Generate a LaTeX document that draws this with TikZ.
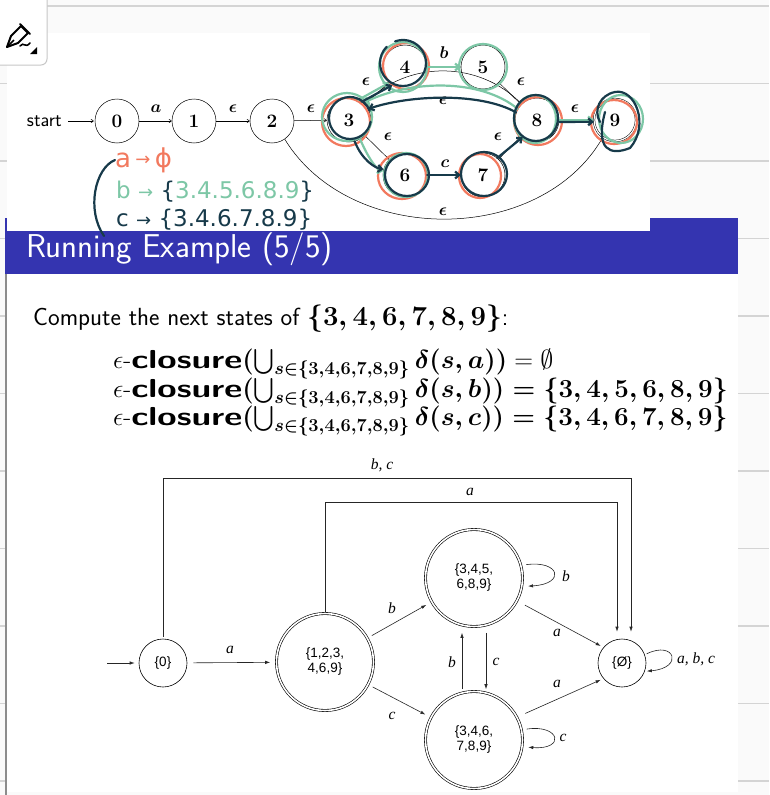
\RequirePackage{fix-cm}
\documentclass[tikz,border=0pt]{standalone}
\usepackage{amsmath,bm,graphicx}
\usepackage{fontspec}
\usetikzlibrary{arrows.meta,calc}
\newfontfamily\arialf{Liberation Sans}
\newfontfamily\serift{Liberation Serif}
\newfontfamily\handf{DejaVu Sans}
\definecolor{slideblue}{HTML}{3434B0}
\definecolor{hred}{HTML}{F2795E}
\definecolor{hgreen}{HTML}{7DC7A6}
\definecolor{hdark}{HTML}{173A4A}
\definecolor{pagebg}{HTML}{FAFAFA}
\definecolor{ruleline}{HTML}{D4D4D4}
\newcommand{\clos}{$\epsilon$-\scalebox{1.35}[1]{\textsf{\textbf{closure}}}}
\tikzset{
  nfa/.style={circle,draw,line width=0.5pt,minimum size=44pt,inner sep=0pt,font=\fontsize{19}{19}\selectfont\bfseries},
  narr/.style={-{To[length=3pt,width=4pt]},line width=0.5pt},
  nlab/.style={font=\fontsize{17}{17}\selectfont,inner sep=1pt},
  dfa/.style={circle,draw,line width=0.6pt,minimum size=48pt,inner sep=0pt,align=center,font=\arialf\fontsize{13.5}{15}\selectfont},
  dacc/.style={dfa,double,double distance=1.6pt,minimum size=97pt},
  darr/.style={-{Latex[length=5pt,width=3.4pt]},line width=0.6pt,black!85},
  dlab/.style={font=\serift\itshape\fontsize{15.5}{15.5}\selectfont,inner sep=1pt},
  hand/.style={line width=2.2pt,line cap=round,line join=round},
  htip/.style={hand,-{Straight Barb[length=4pt,width=7pt]}},
  note/.style={anchor=west,font=\handf\fontsize{23}{23}\selectfont,inner sep=0pt},
  eqline/.style={anchor=base west,font=\fontsize{26}{26}\selectfont,inner sep=0pt},
}
\begin{document}
\begin{tikzpicture}[x=1pt,y=-1pt]
\useasboundingbox (0,0) rectangle (769,795);
% page background and ruled lines
\fill[pagebg] (0,0) rectangle (769,795);
\foreach \yy in {6,83.5,161,238.5,316,393.5,471,548.5,626,703.5,781}
  \draw[ruleline,line width=1.4pt] (0,\yy) -- (769,\yy);
% slide
\fill[white] (6,218) rectangle (738,792);
\draw[black!45,line width=1.2pt] (6,274) -- (6,795);
\fill[slideblue] (5,218) rectangle (738,274);
% pasted picture
\fill[white] (7,33) rectangle (650,231);
% toolbar button
\draw[fill=white,draw=black!22,line width=1pt,rounded corners=6pt] (-10,-10) rectangle (47,65);
\draw[line width=2pt,line join=round] (7,47) -- (11,36) -- (21,26) -- (28,33) -- (18,43) -- cycle;
\draw[line width=2pt,line cap=round] (20,24) -- (30,34);
\draw[line width=1.6pt] (7,47) -- (14,40);
\draw[line width=1.6pt,line cap=round] (20,46) .. controls (24,41) and (25,49) .. (30,43);
\fill (30,54) -- (37,54) -- (37,47) -- cycle;

% title
\node[anchor=base west,text=white,font=\sffamily\fontsize{33}{33}\selectfont,inner sep=0pt] (title) at (26,257) {Running Example (5/5)};

% body text
\node[anchor=base west,font=\sffamily\fontsize{24.8}{24.8}\selectfont,inner sep=0pt] (compute) at (33,325) {Compute the next states of {\fontsize{27.5}{27.5}\selectfont\boldmath$\{3,4,6,7,8,9\}$}:};
\node[eqline] (eq1) at (113,368) {\clos{\boldmath$(\bigcup_{s\in\{3,4,6,7,8,9\}}\delta(s,a))$}${}=\emptyset$};
\node[eqline] (eq2) at (113,397) {\clos{\boldmath$(\bigcup_{s\in\{3,4,6,7,8,9\}}\delta(s,b))=\{3,4,5,6,8,9\}$}};
\node[eqline] (eq3) at (113,425) {\clos{\boldmath$(\bigcup_{s\in\{3,4,6,7,8,9\}}\delta(s,c))=\{3,4,6,7,8,9\}$}};

% ---------- NFA ----------
\node[nfa] (n0) at (117,121) {0};
\node[nfa] (n1) at (194,121) {1};
\node[nfa] (n2) at (272,121) {2};
\node[nfa] (n3) at (349,120) {3};
\node[nfa] (n4) at (405,67) {4};
\node[nfa] (n5) at (483,67) {5};
\node[nfa] (n6) at (405,175) {6};
\node[nfa] (n7) at (483,175) {7};
\node[nfa] (n8) at (537,120) {8};
\node[nfa,double,double distance=1.2pt,minimum size=42pt] (n9) at (615,120) {9};
\node[anchor=east,font=\sffamily\fontsize{19.5}{19.5}\selectfont,inner sep=0pt] (start) at (62,121) {start};
\draw[narr,shorten <=6pt] (start) -- ([xshift=-1pt]n0.west);
\draw[narr] (n0) -- (n1);
\draw[narr] (n1) -- (n2);
\draw[narr] (n2) -- (n3);
\draw[narr] (n3) -- (n4);
\draw[narr] (n4) -- (n5);
\draw[narr] (n5) -- (n8);
\draw[narr] (n8) to[bend right=46] (n3);
\draw[narr] (n3) -- (n6);
\draw[narr] (n6) -- (n7);
\draw[narr] (n7) -- (n8);
\draw[narr] (n8) -- (n9);
\draw[narr] (n2.-55) .. controls (350,246) and (540,246) .. (n9.-125);
\node[nlab] (la) at (156,109) {$\bm{a}$};
\node[nlab] (le1) at (233,109) {$\bm{\epsilon}$};
\node[nlab] (le2) at (311,109) {$\bm{\epsilon}$};
\node[nlab] (le3) at (366,82) {$\bm{\epsilon}$};
\node[nlab] (lb) at (444,53) {$\bm{b}$};
\node[nlab] (le4) at (521,82) {$\bm{\epsilon}$};
\node[nlab] (le5) at (443,101) {$\bm{\epsilon}$};
\node[nlab] (le6) at (388,137) {$\bm{\epsilon}$};
\node[nlab] (lc) at (445,164) {$\bm{c}$};
\node[nlab] (le7) at (498,137) {$\bm{\epsilon}$};
\node[nlab] (le8) at (575,109) {$\bm{\epsilon}$};
\node[nlab] (le9) at (443,212) {$\bm{\epsilon}$};

% ---------- handwriting over the NFA ----------
% red
\draw[hand,hred] (n3) ++(-3,2) circle[x radius=24,y radius=24];
\draw[hand,hred] (n4) ++(1,-1) circle[x radius=23,y radius=23];
\draw[hand,hred] (n6) ++(-3,1) circle[x radius=24,y radius=23];
\draw[hand,hred] (n7) ++(-3,1) circle[x radius=21,y radius=22];
\draw[hand,hred] (n8) ++(1,1) circle[x radius=24,y radius=24];
\draw[hand,hred] (n9) ++(-1,2) circle[x radius=23,y radius=22];
% green
\draw[hand,hgreen] (n3) ++(-2,-3) circle[x radius=25,y radius=24];
\draw[hand,hgreen] (n4) ++(-2,0) circle[x radius=24,y radius=25];
\draw[hand,hgreen] (n5) circle[x radius=24,y radius=23];
\draw[hand,hgreen] (n6) ++(1,0) circle[x radius=22,y radius=22];
\draw[hand,hgreen] (n8) ++(-2,-1) circle[x radius=21,y radius=24];
\draw[hand,hgreen] (n9) ++(6,-1) circle[x radius=22,y radius=24];
\draw[htip,hgreen] (n4.east) -- (n5.west);
\draw[htip,hgreen] (n8.150) .. controls (480,78) and (410,80) .. (n3.50);
\draw[htip,hgreen] (n3.65) -- (n4.225);
\draw[htip,hgreen] (n3.-60) .. controls (370,162) and (378,170) .. (n6.170);
\draw[htip,hgreen] (n8.east) -- (n9.west);
% dark
\draw[hand,hdark] (n3) ++(1,-2) ++(10:21) arc[start angle=10,end angle=340,radius=21];
\draw[hand,hdark] (n4) ++(-2,-4) ++(225:23) arc[start angle=225,end angle=-110,radius=23];
\draw[hand,hdark] (n6) ++(2,0) circle[x radius=22,y radius=21];
\draw[hand,hdark] (n7) ++(1,-1) circle[x radius=23,y radius=22];
\draw[hand,hdark] (n8) ++(-1,-2) circle[x radius=22,y radius=23];
\draw[hand,hdark] (n9) ++(-10,-8) .. controls (595,150) and (610,156) .. (630,148) .. controls (650,125) and (635,88) .. (615,92) .. controls (600,95) and (593,110) .. (600,122);
\draw[htip,hdark] (n8.160) .. controls (480,92) and (410,95) .. (n3.30);
\draw[htip,hdark] (n3.55) -- (n4.235);
\draw[htip,hdark] (n3.-75) .. controls (362,160) and (375,168) .. (n6.165);
\draw[htip,hdark] (n6.east) -- (n7.west);
\draw[htip,hdark] (n7.50) -- (n8.230);
\draw[htip,hdark] (n8.-5) -- (n9.185);

% handwritten notes
\node[note,text=hred,font=\handf\fontsize{26}{26}\selectfont] (noteA) at (115,160) {a\,\raisebox{2pt}{\fontsize{18}{18}\selectfont→}\,ϕ};
\node[note] (noteB) at (116,192) {\color{hgreen}b {\fontsize{18}{18}\selectfont→}\ \color{hdark}\{\color{hgreen}3.4.5.6.8.9\color{hdark}\}};
\node[note,text=hdark] (noteC) at (116,220) {c {\fontsize{18}{18}\selectfont→}\ \{3.4.6.7.8.9\}};
\draw[hand,hdark] (noteA.west) .. controls (95,168) and (86,210) .. (104,236);

% ---------- DFA ----------
\node[dfa] (q0) at (163,663) {\{0\}};
\node[dacc] (q1) at (325,662) {\{1,2,3,\\4,6,9\}};
\node[dacc] (q2) at (474,578) {\{3,4,5,\\6,8,9\}};
\node[dacc] (q3) at (474,740) {\{3,4,6,\\7,8,9\}};
\node[dfa] (qe) at (622,663) {\{Ø\}};
\coordinate (s0) at (107,663);
\coordinate (bcR) at (631,478);
\coordinate (aR) at (617,502);
\draw[darr,shorten >=4pt] (s0) -- (q0);
\draw[darr,shorten <=6pt,shorten >=6pt] (q0) -- (q1);
\draw[darr,shorten <=2pt,shorten >=7pt] (q0.north) |- (bcR) -- (bcR |- qe.north);
\draw[darr,shorten <=1pt,shorten >=7pt] (q1.north) |- (aR) -- (aR |- qe.north);
\draw[darr,shorten <=5pt,shorten >=6pt] (q1) -- (q2);
\draw[darr,shorten <=5pt,shorten >=6pt] (q1) -- (q3);
\draw[darr,shorten <=2pt,shorten >=6pt] ([xshift=-12pt]q3.north) -- ([xshift=-12pt]q2.south);
\draw[darr,shorten <=6pt,shorten >=2pt] ([xshift=12pt]q2.south) -- ([xshift=12pt]q3.north);
\draw[darr,shorten <=9pt,shorten >=3pt] (q2.-28) -- (qe.140);
\draw[darr,shorten <=9pt,shorten >=3pt] (q3.28) -- (qe.-140);
\draw[darr,shorten <=5pt,shorten >=6pt] (q2.15) .. controls (560,560) and (566,584) .. (q2.-10);
\draw[darr,shorten <=5pt,shorten >=6pt] (q3.12) .. controls (560,724) and (566,750) .. (q3.-8);
\draw[darr,shorten <=2pt,shorten >=2pt] (qe.20) .. controls (675,640) and (684,668) .. (qe.-20);
\node[dlab] (lbc) at (382,465) {b, c};
\node[dlab] (la2) at (470,492) {a};
\node[dlab] (la1) at (230,650) {a};
\node[dlab] (lb1) at (392,608) {b};
\node[dlab] (lc1) at (392,716) {c};
\node[dlab] (lb2) at (452,662) {b};
\node[dlab] (lc2) at (496,662) {c};
\node[dlab] (la3) at (557,633) {a};
\node[dlab] (la4) at (557,684) {a};
\node[dlab] (lb3) at (566,576) {b};
\node[dlab] (lc3) at (563,738) {c};
\node[dlab,anchor=west] (labc) at (676,659) {a, b, c};
\end{tikzpicture}
\end{document}
